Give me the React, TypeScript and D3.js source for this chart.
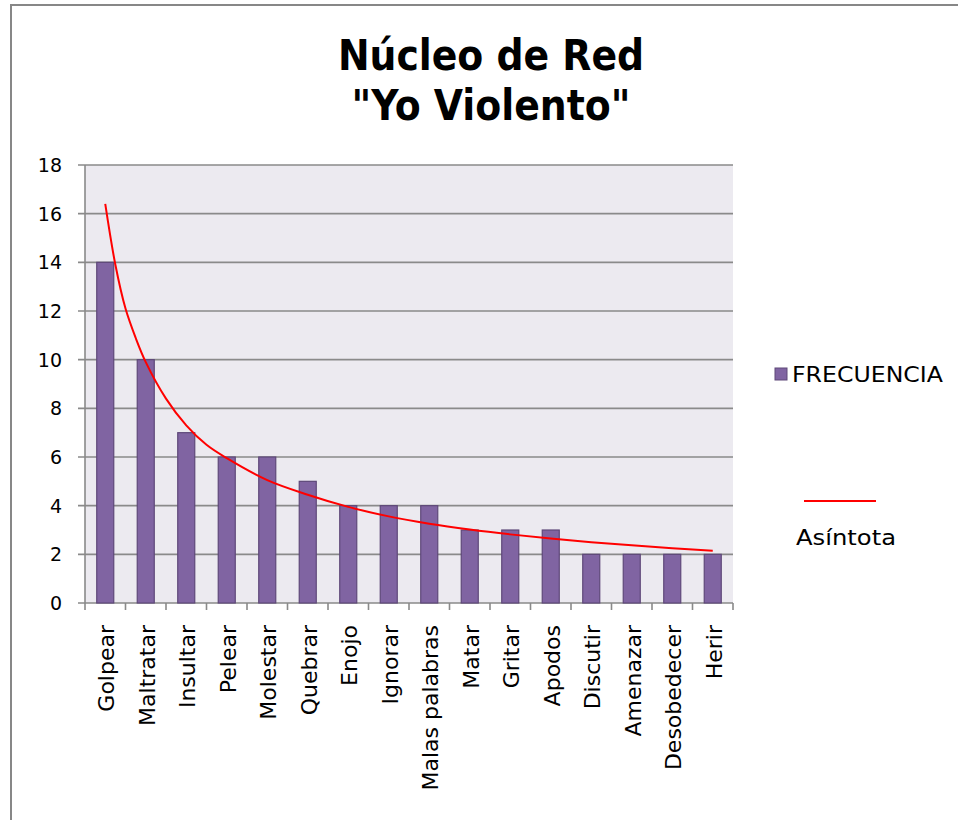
import React from "react";
import * as d3 from "d3";

const categories = ["Golpear","Maltratar","Insultar","Pelear","Molestar","Quebrar","Enojo","Ignorar","Malas palabras","Matar","Gritar","Apodos","Discutir","Amenazar","Desobedecer","Herir"];
const frecuencia = [14,10,7,6,6,5,4,4,4,3,3,3,2,2,2,2];
// Trend line ("Asíntota") at positions given in category units (1 = Golpear)
const asintotaPos = [1,1.25,1.5,1.75,2,2.5,3,3.5,4,5,6,7,8,9,10,11,12,13,14,15,16];
const asintotaVal = [16.4,13.9,12.1,10.9,9.9,8.4,7.3,6.5,5.95,5.05,4.45,3.95,3.56,3.26,3.02,2.82,2.65,2.5,2.37,2.25,2.15];
const yTicks = [0,2,4,6,8,10,12,14,16,18];

const W = 958, H = 820;
const plot = { left: 85, right: 733, top: 165, bottom: 603 };
const font = "'DejaVu Sans', sans-serif";

export default function App() {
  const x = d3.scaleBand<string>().domain(categories).range([plot.left, plot.right]).paddingInner(0).paddingOuter(0);
  const y = d3.scaleLinear().domain([0, 18]).range([plot.bottom, plot.top]);
  const xPos = d3.scaleLinear().domain([1, categories.length]).range([
    (x(categories[0]) as number) + x.bandwidth() / 2,
    (x(categories[categories.length - 1]) as number) + x.bandwidth() / 2,
  ]);
  const bw = x.bandwidth() * 0.42;
  const line = d3.line<number>()
    .x((_, i) => xPos(asintotaPos[i]))
    .y((d) => y(d))
    .curve(d3.curveCatmullRom.alpha(0.5));
  const grid = "#8a8a8a";
  return (
    <svg width={W} height={H} style={{ position: "absolute", left: 0, top: 0, background: "#fff" }}>
      <rect x={11} y={5} width={W + 20} height={H + 20} fill="#fff" stroke="#878787" strokeWidth={2} />
      <text x={491} y={70} textAnchor="middle" fontFamily="'DejaVu Sans Condensed', 'DejaVu Sans', sans-serif" fontWeight="bold" fontSize={42} fill="#000">Núcleo de Red</text>
      <text x={491} y={120} textAnchor="middle" fontFamily="'DejaVu Sans Condensed', 'DejaVu Sans', sans-serif" fontWeight="bold" fontSize={42} fill="#000">"Yo Violento"</text>
      <rect x={plot.left} y={plot.top} width={plot.right - plot.left} height={plot.bottom - plot.top} fill="#ECEAF0" />
      {yTicks.map((t) => (
        <g key={t}>
          <line x1={plot.left - 7} x2={plot.right} y1={y(t)} y2={y(t)} stroke={grid} strokeWidth={1.6} />
          <text x={62} y={y(t)} dy="0.36em" textAnchor="end" fontFamily={font} fontSize={19} fill="#000">{t}</text>
        </g>
      ))}
      <line x1={plot.left} x2={plot.left} y1={plot.top} y2={plot.bottom} stroke={grid} strokeWidth={1.6} />
      {categories.map((c, i) => (
        <line key={"t" + i} x1={x(c) as number} x2={x(c) as number} y1={plot.bottom} y2={plot.bottom + 7} stroke={grid} strokeWidth={1.6} />
      ))}
      <line x1={plot.right} x2={plot.right} y1={plot.bottom} y2={plot.bottom + 7} stroke={grid} strokeWidth={1.6} />
      {frecuencia.map((v, i) => {
        const cx = (x(categories[i]) as number) + x.bandwidth() / 2;
        return (
          <rect key={"b" + i} x={cx - bw / 2} y={y(v)} width={bw} height={y(0) - y(v)} fill="#8064A2" stroke="#5E4879" strokeWidth={1.2} />
        );
      })}
      <path d={line(asintotaVal) || ""} fill="none" stroke="#FF0000" strokeWidth={2} />
      {categories.map((c, i) => {
        const cx = (x(c) as number) + x.bandwidth() / 2;
        return (
          <text key={"l" + i} transform={`translate(${cx + 1},625) rotate(-90)`} dy="0.36em" textAnchor="end" fontFamily={font} fontSize={22} fill="#000">{c}</text>
        );
      })}
      <rect x={775} y={368} width={12} height={12} fill="#8064A2" stroke="#5E4879" strokeWidth={1} />
      <text x={792} y={382} fontFamily={font} fontSize={21} fill="#000" textLength={151} lengthAdjust="spacingAndGlyphs">FRECUENCIA</text>
      <line x1={804} x2={876} y1={501} y2={501} stroke="#FF0000" strokeWidth={2} />
      <text x={796} y={545} fontFamily={font} fontSize={22} fill="#000" textLength={100} lengthAdjust="spacingAndGlyphs">Asíntota</text>
    </svg>
  );
}
